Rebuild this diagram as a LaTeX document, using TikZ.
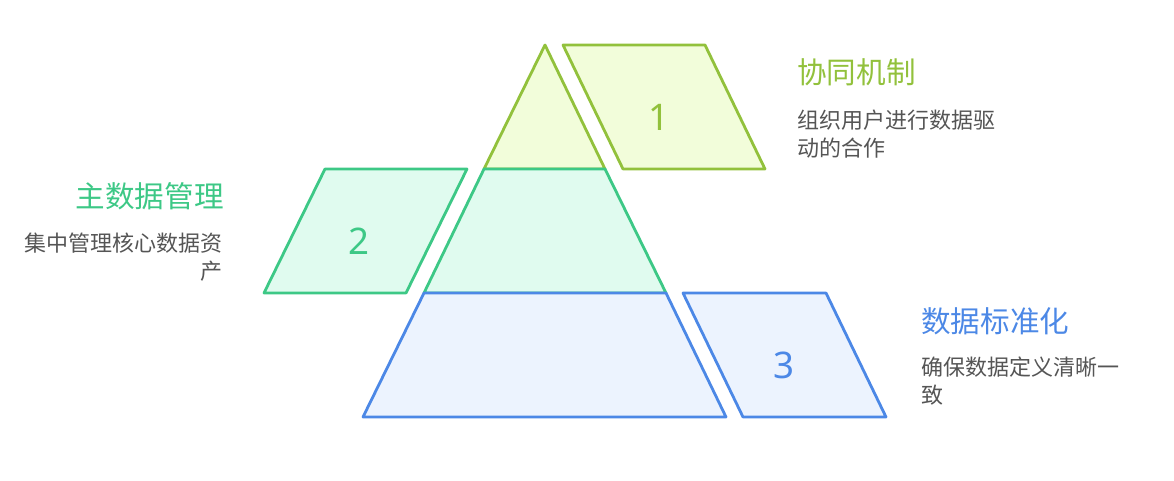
\documentclass[tikz,border=0pt]{standalone}
\usepackage{fontspec}
\setmainfont{Noto Sans CJK SC}
\newfontfamily\digitfont{Noto Sans}
\definecolor{cA}{HTML}{92C13C}
\definecolor{fA}{HTML}{F2FDDA}
\definecolor{cB}{HTML}{3DC886}
\definecolor{fB}{HTML}{E0FBEF}
\definecolor{cC}{HTML}{4C88E6}
\definecolor{fC}{HTML}{ECF3FE}
\definecolor{bodygray}{HTML}{555555}
\begin{document}
\begin{tikzpicture}[x=0.75pt,y=-0.75pt,
  shapeline/.style={line width=2.1pt,line join=round},
  numlabel/.style={font=\digitfont\fontsize{27.5}{32}\selectfont,inner sep=0pt},
  titletext/.style={font=\fontsize{22.2}{26}\selectfont,inner sep=0pt},
  bodytext/.style={font=\fontsize{16.5}{19}\selectfont,text=bodygray,inner sep=0pt}]
\useasboundingbox (0,0) rectangle (1174,481);
% pyramid
\draw[shapeline,draw=cA,fill=fA] (545,45) -- (605,169) -- (484,169) -- cycle;
\draw[shapeline,draw=cB,fill=fB] (484,169) -- (605,169) -- (666,293) -- (424,293) -- cycle;
\draw[shapeline,draw=cC,fill=fC] (424,293) -- (666,293) -- (726,417) -- (363,417) -- cycle;
% parallelograms
\draw[shapeline,draw=cA,fill=fA] (563,45) -- (705,45) -- (765,169) -- (623,169) -- cycle;
\draw[shapeline,draw=cB,fill=fB] (325,169) -- (467,169) -- (406,293) -- (264,293) -- cycle;
\draw[shapeline,draw=cC,fill=fC] (683,293) -- (826,293) -- (886,417) -- (743,417) -- cycle;
\node[numlabel,text=cA] (n1) at (659,117) {1};
\node[numlabel,text=cB] (n2) at (359,241) {2};
\node[numlabel,text=cC] (n3) at (784,365) {3};
% texts
\node[titletext,text=cA,anchor=west] (t1) at (797,72) {协同机制};
\node[bodytext,anchor=west,align=left] (b1) at (797,134) {组织用户进行数据驱\\[2pt]动的合作};
\node[titletext,text=cB,anchor=east] (t2) at (224,196) {主数据管理};
\node[bodytext,anchor=east,align=right] (b2) at (223,257) {集中管理核心数据资\\[2pt]产};
\node[titletext,text=cC,anchor=west] (t3) at (921,321) {数据标准化};
\node[bodytext,anchor=west,align=left] (b3) at (921,381) {确保数据定义清晰一\\[2pt]致};
\end{tikzpicture}
\end{document}
